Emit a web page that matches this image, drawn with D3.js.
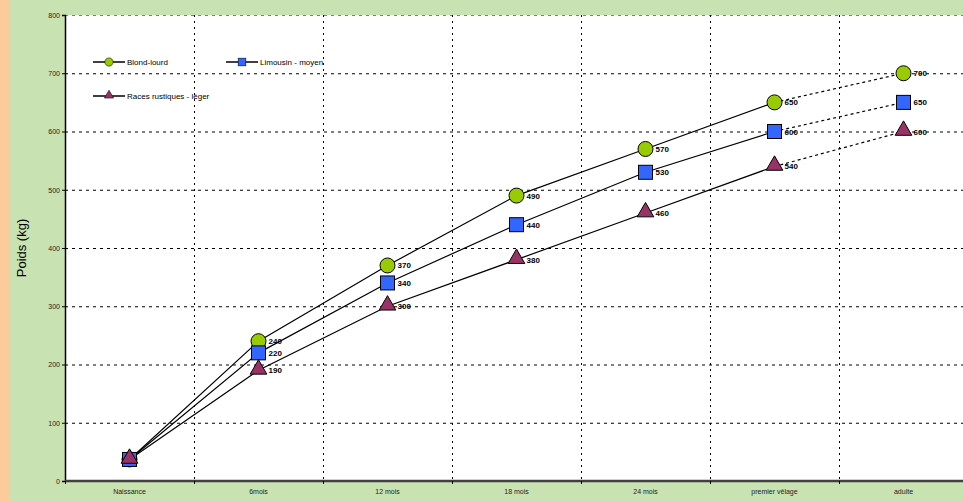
<!DOCTYPE html>
<html>
<head>
<meta charset="utf-8">
<script src="https://cdn.jsdelivr.net/npm/d3@7"></script>
<style>
  body { margin: 0; padding: 0; }
  svg { display: block; font-family: "Liberation Sans", Arial, sans-serif; }
  .axis text { font-size: 7px; fill: #222; }
  .val { font-size: 8px; font-weight: bold; }
  .leg { font-size: 8px; }
</style>
</head>
<body>
<div id="chart"></div>
<script>
// categories and series
var categories = ["Naissance", "6mois", "12 mois", "18 mois", "24 mois", "premier vêlage", "adulte"];
var blondLourd = [37, 240, 370, 490, 570, 650, 700];
var limousinMoyen = [37, 220, 340, 440, 530, 600, 650];
var racesRustiques = [37, 190, 300, 380, 460, 540, 600];
var yTicks = [0, 100, 200, 300, 400, 500, 600, 700, 800];

var seriesList = [
  { name: "Blond-lourd", values: blondLourd, color: "#99CC00", shape: "circle" },
  { name: "Limousin - moyen", values: limousinMoyen, color: "#3366FF", shape: "square" },
  { name: "Races rustiques - léger", values: racesRustiques, color: "#993366", shape: "triangle" }
];

var W = 963, H = 501;
var margin = { top: 15, left: 65, bottom: 20 };
var plotW = 903, plotH = H - margin.top - margin.bottom;

var svg = d3.select("#chart").append("svg")
  .attr("width", W)
  .attr("height", H);

// backgrounds
svg.append("rect").attr("width", W).attr("height", H).attr("fill", "#C8E2B1");
svg.append("rect").attr("width", 9).attr("height", H).attr("fill", "#FCCB9C");

var g = svg.append("g")
  .attr("transform", "translate(" + margin.left + "," + margin.top + ")");

g.append("rect").attr("width", plotW).attr("height", plotH).attr("fill", "#fff");

// scales
var x = d3.scaleBand().domain(categories).range([0, plotW]);
var y = d3.scaleLinear().domain([0, 800]).range([plotH, 0]);
var cx = function (i) { return x(categories[i]) + x.bandwidth() / 2; };

// grid
g.selectAll(".hgrid")
  .data(yTicks.slice(1))
  .enter().append("line")
  .attr("x1", 0).attr("x2", plotW)
  .attr("y1", function (d) { return y(d) + 0.5; })
  .attr("y2", function (d) { return y(d) + 0.5; })
  .attr("stroke", function (d) { return d === 800 ? "#808080" : "#000"; })
  .attr("stroke-width", 1)
  .attr("stroke-dasharray", "3,4");

g.selectAll(".vgrid")
  .data(categories.slice(1))
  .enter().append("line")
  .attr("x1", function (d) { return Math.round(x(d)) + 0.5; })
  .attr("x2", function (d) { return Math.round(x(d)) + 0.5; })
  .attr("y1", 0).attr("y2", plotH)
  .attr("stroke", "#000")
  .attr("stroke-dasharray", "2,4");

// axes
var yAxis = d3.axisLeft(y).tickValues(yTicks).tickSize(3).tickPadding(2);
var yg = g.append("g").attr("class", "axis").call(yAxis);
yg.select(".domain").attr("stroke", "#000").attr("stroke-width", 1.5);
yg.selectAll(".tick line").attr("stroke", "#000");

var xAxis = d3.axisBottom(x).tickSize(0).tickPadding(8);
var xg = g.append("g").attr("class", "axis")
  .attr("transform", "translate(0," + plotH + ")")
  .call(xAxis);
xg.select(".domain").remove();
xg.append("line")
  .attr("x1", 0).attr("x2", plotW)
  .attr("y1", 0).attr("y2", 0)
  .attr("stroke", "#404040").attr("stroke-width", 2.5);
xg.selectAll(".xtick")
  .data(categories)
  .enter().append("line")
  .attr("x1", function (d) { return Math.round(x(d)) + 0.5; })
  .attr("x2", function (d) { return Math.round(x(d)) + 0.5; })
  .attr("y1", 0).attr("y2", 3)
  .attr("stroke", "#000");

// y title
svg.append("text")
  .attr("transform", "translate(26," + (margin.top + plotH / 2) + ") rotate(-90)")
  .attr("text-anchor", "middle")
  .style("font-size", "13px")
  .text("Poids (kg)");

// markers
var triSym = d3.symbol().type(d3.symbolTriangle).size(120);
function drawMarker(sel, shape, color, px, py) {
  if (shape === "circle") {
    sel.append("circle").attr("cx", px).attr("cy", py).attr("r", 7.5)
      .attr("fill", color).attr("stroke", "#000").attr("stroke-width", 1);
  } else if (shape === "square") {
    sel.append("rect").attr("x", px - 7).attr("y", py - 7).attr("width", 14).attr("height", 14)
      .attr("fill", color).attr("stroke", "#000").attr("stroke-width", 1);
  } else {
    sel.append("path").attr("d", triSym).attr("transform", "translate(" + px + "," + (py - 1) + ")")
      .attr("fill", color).attr("stroke", "#000").attr("stroke-width", 1);
  }
}

var line = d3.line()
  .x(function (d) { return cx(d.i); })
  .y(function (d) { return y(d.v); });

seriesList.forEach(function (s) {
  var pts = s.values.map(function (v, i) { return { v: v, i: i }; });
  g.append("path")
    .attr("d", line(pts.slice(0, 6)))
    .attr("fill", "none").attr("stroke", "#000").attr("stroke-width", 1.2);
  g.append("path")
    .attr("d", line(pts.slice(5)))
    .attr("fill", "none").attr("stroke", "#000").attr("stroke-width", 1.2)
    .attr("stroke-dasharray", "3,3");
});

seriesList.forEach(function (s) {
  s.values.forEach(function (v, i) {
    drawMarker(g, s.shape, s.color, cx(i), y(v));
    if (i > 0) {
      g.append("text").attr("class", "val")
        .attr("x", cx(i) + 10).attr("y", y(v) + 3)
        .text(v);
    }
  });
});

// legend
var legendPos = [[28, 47], [161, 47], [28, 81]];
seriesList.forEach(function (s, k) {
  var lx = legendPos[k][0], ly = legendPos[k][1];
  g.append("line").attr("x1", lx).attr("x2", lx + 32).attr("y1", ly).attr("y2", ly)
    .attr("stroke", "#000").attr("stroke-width", 1.5);
  var lg = g.append("g").attr("transform", "translate(" + (lx + 16) + "," + ly + ") scale(0.55)");
  drawMarker(lg, s.shape, s.color, 0, 0);
  g.append("text").attr("class", "leg")
    .attr("x", lx + 34).attr("y", ly + 3)
    .text(s.name);
});
</script>
</body>
</html>
